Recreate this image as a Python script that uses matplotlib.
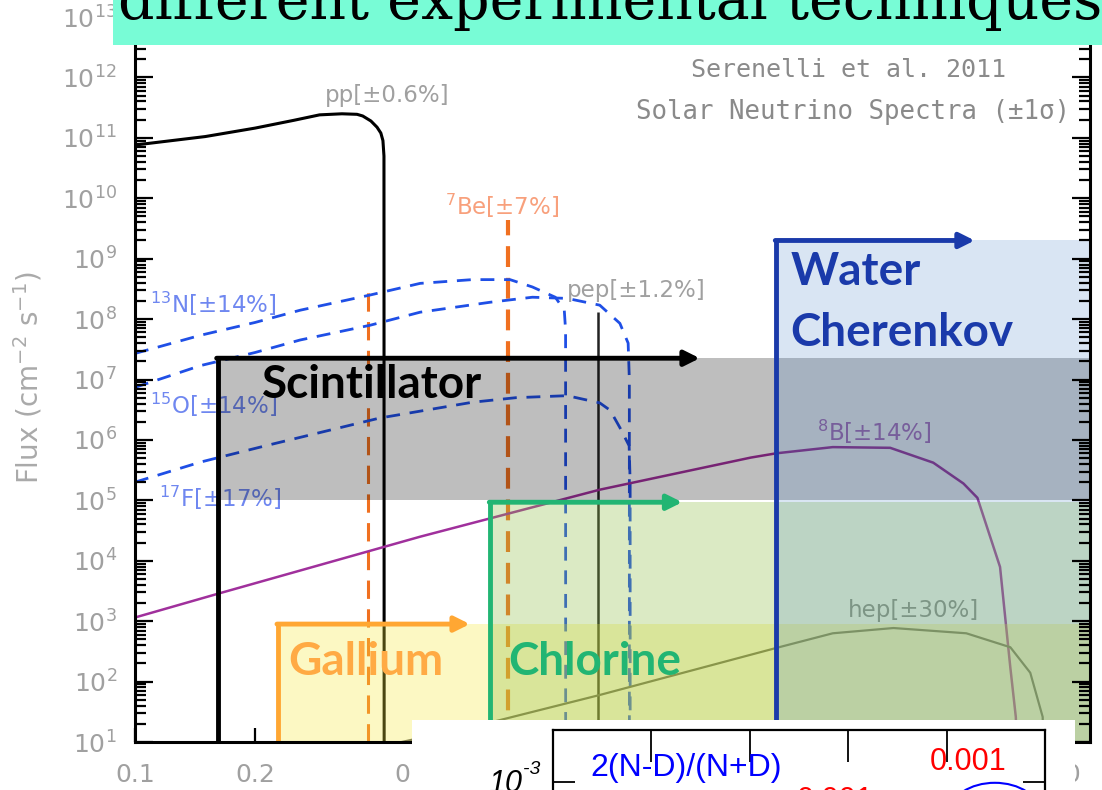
import matplotlib.pyplot as plt
from matplotlib.patches import Rectangle, Ellipse
from matplotlib.ticker import LogLocator, NullLocator, NullFormatter

# -------------------------
# Spectra (E in MeV, flux in cm^-2 s^-1)
# -------------------------
pp_e = [0.1, 0.15, 0.2, 0.25, 0.29, 0.33, 0.36, 0.372, 0.39, 0.404, 0.413, 0.418, 0.4205, 0.421]
pp_f = [7.6e10, 1.05e11, 1.45e11, 1.95e11, 2.4e11, 2.5e11, 2.45e11, 2.3e11, 1.9e11, 1.5e11, 1.2e11, 9e10, 5e10, 1.0]

n13_e = [0.1, 0.146, 0.2, 0.259, 0.388, 0.518, 0.7, 0.87, 0.99, 1.13, 1.19, 1.199, 1.1995]
n13_f = [2.7e7, 5.4e7, 8.8e7, 1.4e8, 2.5e8, 3.9e8, 4.5e8, 4.5e8, 3.4e8, 2.3e8, 1.4e8, 6.5e7, 1.0]

o15_e = [0.1, 0.146, 0.2, 0.259, 0.388, 0.518, 0.776, 0.99, 1.21, 1.46, 1.64, 1.72, 1.732, 1.7325]
o15_f = [7.4e6, 1.7e7, 2.8e7, 4.5e7, 7.9e7, 1.3e8, 1.9e8, 2.3e8, 2.2e8, 1.7e8, 8.5e7, 4e7, 1e7, 1.0]

f17_e = [0.1, 0.146, 0.214, 0.259, 0.41, 0.7, 0.9, 1.21, 1.46, 1.55, 1.64, 1.73, 1.74, 1.7405]
f17_f = [2e5, 4.3e5, 8.1e5, 1.1e6, 2.3e6, 4.2e6, 5e6, 5.4e6, 4.1e6, 3.1e6, 1.6e6, 8e5, 2e5, 1.0]

b8_e = [0.1, 0.163, 0.518, 1.46, 3.49, 4.04, 5.6, 7.8, 10.0, 11.9, 12.9, 14.7, 15.6, 16.1, 16.4]
b8_f = [1.15e3, 2.9e3, 2.5e4, 1.5e5, 5.1e5, 6e5, 7.6e5, 7.4e5, 4.2e5, 1.9e5, 1.1e5, 7.9e3, 1.7e2, 26, 1.0]

hep_e = [0.466, 0.776, 1.46, 4.04, 5.6, 7.95, 12.1, 15.6, 17.5, 18.8, 19.0]
hep_f = [10, 21, 60, 3.6e2, 6.3e2, 7.7e2, 6.3e2, 3.7e2, 1.4e2, 26, 1.0]

# line sources
be7_e = [0.384, 0.862]
be7_f = [3.2e8, 4.4e9]
pep_e = [1.442]
pep_f = [1.3e8]

# detector thresholds (MeV), band top / bottom (flux), arrow tip (MeV)
det_names = ['Gallium', 'Chlorine', 'Scintillator', 'Water']
det_thr = [0.228, 0.776, 0.161, 4.04]
det_top = [8.95e2, 9.3e4, 2.25e7, 2.0e9]
det_bottom = [10, 10, 1e5, 10]
det_tip = [0.69, 2.35, 2.6, 12.7]

# inset x ticks
inset_ticks = [1, 2, 3, 4]

W, H = 1102, 790
XMIN, XMAX = 0.1, 24.7
YMIN, YMAX = 1e1, 1e13
GRAY = '#a0a0a0'

fig = plt.figure(figsize=(W / 100, H / 100), dpi=100)
ax = fig.add_axes([135 / W, 48 / H, 955 / W, 725 / H])
ax.set_xscale('log')
ax.set_yscale('log')
ax.set_xlim(XMIN, XMAX)
ax.set_ylim(YMIN, YMAX)

# -------------------------
# Spectra
# -------------------------
ax.plot(pp_e, pp_f, color='black', lw=2.2, zorder=2)
ax.vlines(pep_e, YMIN, pep_f, color='#222222', lw=1.8, zorder=2)
ax.vlines(be7_e[:1], YMIN, be7_f[:1], color='#f07020', lw=2.2, linestyles=(0, (6, 3.4)), zorder=2)
ax.vlines(be7_e[1:], YMIN, be7_f[1:], color='#f07020', lw=3, linestyles=(0, (5, 2.6)), zorder=2)
for e, f in [(n13_e, n13_f), (o15_e, o15_f), (f17_e, f17_f)]:
    ax.plot(e, f, color='#1f4fe6', lw=2, ls=(0, (5, 3.5)), zorder=2)
ax.plot(b8_e, b8_f, color='#a0309c', lw=1.8, zorder=2)
ax.plot(hep_e, hep_f, color='#5a5a5a', lw=1.6, zorder=2)

lab = dict(fontsize=16.5, va='center', ha='left', zorder=2)
ax.text(0.299, 5e11, 'pp[±0.6%]', color=GRAY, **lab)
ax.text(0.598, 7.6e9, '$^7$Be[±7%]', color='#f8a07c', **lab)
ax.text(1.21, 3e8, 'pep[±1.2%]', color=GRAY, **lab)
ax.text(0.109, 1.8e8, '$^{13}$N[±14%]', color='#6f87f0', **lab)
ax.text(0.109, 3.8e6, '$^{15}$O[±14%]', color='#6f87f0', **lab)
ax.text(0.115, 1.1e5, '$^{17}$F[±17%]', color='#6f87f0', **lab)
ax.text(5.1, 1.35e6, '$^8$B[±14%]', color='#b070c0', **lab)
ax.text(6.1, 1.5e3, 'hep[±30%]', color='#8a8a8a', **lab)

ax.text(0.747, 0.927, 'Serenelli et al. 2011', transform=ax.transAxes, ha='center',
        va='center', color='#8a8a8a', fontsize=18, family='DejaVu Sans Mono')
ax.text(0.979, 0.869, 'Solar Neutrino Spectra (±1σ)', transform=ax.transAxes, ha='right',
        va='center', color='#8a8a8a', fontsize=18.5, family='DejaVu Sans Mono')

# -------------------------
# Detector bands (translucent, over the spectra)
# -------------------------
fills = [('#f8eb3a', 0.3), ('#8abc3e', 0.3), ('black', 0.255), ('#4f87c8', 0.215)]
for thr, lo, hi, (c, a) in zip(det_thr, det_bottom, det_top, fills):
    ax.fill_between([thr, XMAX], lo, hi, color=c, alpha=a, lw=0, zorder=3)

line_colors = ['#ffa733', '#22b573', 'black', '#1a3aaa']
for thr, hi, tip, c in zip(det_thr, det_top, det_tip, line_colors):
    ax.plot([thr, thr], [YMIN, hi], color=c, lw=3.5, zorder=5, solid_capstyle='butt')
    ax.annotate('', xy=(tip, hi), xytext=(thr * 0.995, hi), zorder=5,
                arrowprops=dict(arrowstyle='-|>,head_length=0.9,head_width=0.45',
                                color=c, lw=3.5, shrinkA=0, shrinkB=0))

big = dict(fontsize=33, fontweight='bold', family='Lato', va='center', ha='left', zorder=6)
ax.text(0.242, 2.1e2, 'Gallium', color='#ffaa44', **big)
ax.text(0.861, 2.1e2, 'Chlorine', color='#22b573', **big)
ax.text(0.208, 8e6, 'Scintillator', color='black', **big)
ax.text(4.38, 6e8, 'Water', color='#1a3aaa', **big)
ax.text(4.38, 5.8e7, 'Cherenkov', color='#1a3aaa', **big)

# -------------------------
# Axes styling (IDL look)
# -------------------------
ax.set_xticks([0.1, 0.2, 0.5, 1, 2, 5, 10, 20])
ax.set_xticklabels(['0.1', '0.2', '0.5', '1', '2', '5', '10', '20.0'])
ax.xaxis.set_minor_locator(NullLocator())
ax.yaxis.set_major_locator(LogLocator(base=10, numticks=20))
ax.yaxis.set_minor_locator(LogLocator(base=10, subs=range(2, 10), numticks=20))
ax.yaxis.set_minor_formatter(NullFormatter())
ax.tick_params(which='both', direction='in', top=True, right=True,
               labelcolor=GRAY, labelsize=18, width=1.6, color='black')
ax.tick_params(axis='y', which='major', length=13, pad=13)
ax.tick_params(axis='y', which='minor', length=8)
ax.tick_params(axis='x', which='major', length=10, pad=15)
for s in ax.spines.values():
    s.set_linewidth(2.2)
    s.set_zorder(10)
ax.xaxis.set_zorder(10)
ax.yaxis.set_zorder(10)

fig.text(28 / W, 1 - 378 / H, 'Flux (cm$^{-2}$ s$^{-1}$)', rotation=90, color='#aaaaaa',
         fontsize=20, ha='center', va='center')

# -------------------------
# Slide banner on top
# -------------------------
fig.patches.append(Rectangle((113 / W, 1 - 45 / H), 989 / W, 45 / H, transform=fig.transFigure,
                             facecolor='#78fcd6', edgecolor='none', zorder=4))
fig.text(118 / W, 1 - 19 / H, 'different experimental techniques', family='DejaVu Serif',
         fontsize=41, color='black', ha='left', va='baseline', zorder=6)

# -------------------------
# Inset (cut at the bottom)
# -------------------------
fig.patches.append(Rectangle((412 / W, 0), 663 / W, 70 / H, transform=fig.transFigure,
                             facecolor='white', edgecolor='none', zorder=4))
ins = fig.add_axes([553 / W, -60 / H, 492 / W, 120 / H], zorder=5)
ins.set_xlim(0, 5)
ins.set_yscale('log')
ins.set_ylim(10 ** -3.68, 10 ** -2.48)
ins.set_xticks(inset_ticks)
ins.yaxis.set_major_locator(LogLocator(base=10, numticks=5))
ins.yaxis.set_minor_locator(NullLocator())
ins.tick_params(axis='x', direction='in', top=True, bottom=False, labeltop=False,
                labelbottom=False, length=23, width=1.3)
ins.tick_params(axis='y', direction='in', left=True, right=True, labelleft=False,
                length=16, width=1.3)
for s in ins.spines.values():
    s.set_linewidth(1.6)
ins.add_patch(Ellipse((0.898, 0.31), 0.183, 0.5, transform=ins.transAxes, fill=False,
                      edgecolor='blue', lw=1.5))

fig.text(522 / W, 1 - 792 / H, '10', family='Liberation Sans', style='italic', fontsize=22,
         ha='right', va='baseline', zorder=7)
fig.text(523 / W, 1 - 774 / H, '-3', family='Liberation Sans', style='italic', fontsize=14,
         ha='left', va='baseline', zorder=7)
fig.text(590 / W, 1 - 768 / H, '2(N-D)/(N+D)', family='Liberation Sans', fontsize=23,
         color='blue', ha='left', va='center', zorder=7)
fig.text(968 / W, 1 - 762 / H, '0.001', family='Liberation Sans', fontsize=22,
         color='red', ha='center', va='center', zorder=7)
fig.text(835 / W, 1 - 786 / H, '0.001', family='Liberation Sans', fontsize=22,
         color='red', ha='center', va='top', zorder=7)

fig.savefig('out.png', dpi=100)
